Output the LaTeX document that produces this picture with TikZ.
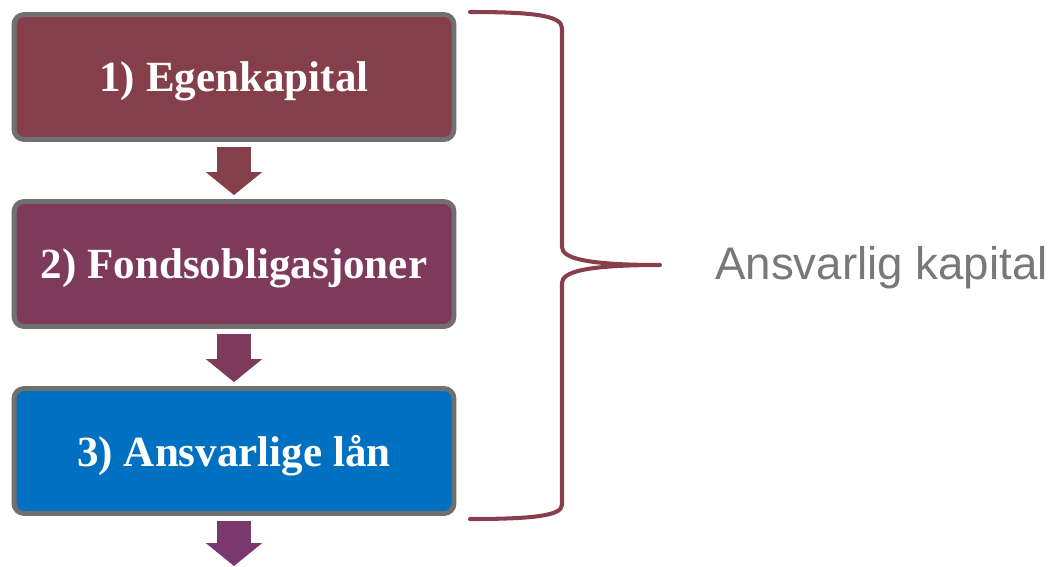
\documentclass[tikz,border=0pt]{standalone}
\usepackage{fontspec}
\setmainfont{Liberation Serif}
\newfontfamily\labelfont{Liberation Sans}
\usetikzlibrary{arrows.meta,positioning}
\definecolor{boxred}{RGB}{132,63,74}
\definecolor{boxplum}{RGB}{126,58,90}
\definecolor{boxblue}{RGB}{0,112,192}
\definecolor{boxgray}{RGB}{112,112,112}
\definecolor{flowplum}{RGB}{122,56,110}
\definecolor{bracered}{RGB}{137,62,75}
\definecolor{labelgray}{RGB}{120,120,120}
\tikzset{
  box/.style={
    rectangle,
    rounded corners=0.2cm,
    draw=boxgray,
    line width=2.8pt,
    minimum width=8.8cm,
    minimum height=2.5cm,
    text depth=0pt,
    text=white,
    font=\fontsize{24.5}{28}\selectfont\bfseries
  },
  box-red/.style={box, fill=boxred},
  box-plum/.style={box, fill=boxplum},
  box-blue/.style={box, fill=boxblue},
  flow/.style={
    line width=19pt,
    -{Triangle[width=32pt,length=13pt,line width=0pt]},
    shorten <=2.8pt,
    shorten >=2.3pt
  },
  brace/.style={draw=bracered, line width=2.3pt, line cap=round, line join=round},
  label-text/.style={text=labelgray, font=\labelfont\fontsize{26}{30}\selectfont, anchor=west}
}

\begin{document}
\begin{tikzpicture}[x=0.02cm, y=-0.02cm]
  \useasboundingbox (0,0) rectangle (1054,566);
  % The three levels
  \node[box-red]  (egen)  at (234,77)  {1) Egenkapital};
  \node[box-plum] (fond)  at (234,264) {2) Fondsobligasjoner};
  \node[box-blue] (laan)  at (234,451) {3) Ansvarlige lån};
  \coordinate (out) at (234,570);
  % Arrows between levels
  \draw[flow, boxred]   (egen.south) -- (fond.north);
  \draw[flow, boxplum]  (fond.south) -- (laan.north);
  \draw[flow, flowplum] (laan.south) -- (out);
  % Brace round all three
  \draw[brace]
    (470,12) .. controls (530,12) and (562,15) .. (562,28) -- (562,247)
    .. controls (562,258) and (585,265) .. (660,265)
    .. controls (585,265) and (562,272) .. (562,283) -- (562,505)
    .. controls (562,516) and (530,519) .. (470,519);
  \node[label-text] (ansvar) at (709,268) {Ansvarlig kapital};
\end{tikzpicture}
\end{document}
